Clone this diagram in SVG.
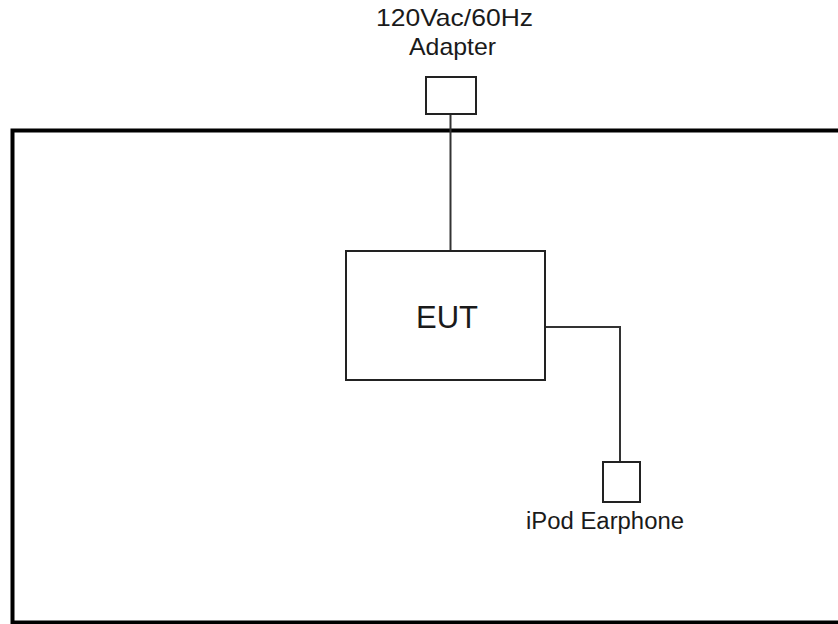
<svg xmlns="http://www.w3.org/2000/svg" width="838" height="624" viewBox="0 0 838 624">
<style>
.box{fill:#fff;stroke:#222;stroke-width:2}
.wire{fill:none;stroke:#333;stroke-width:2}
.lbl{font-family:"Liberation Sans",Arial,sans-serif;fill:#1a1a1a;text-anchor:middle}
</style>
<rect width="838" height="624" fill="#fff"/>
<g id="enclosure"><rect x="12.5" y="130.5" width="830" height="492" fill="none" stroke="#000" stroke-width="4"/></g>
<g id="connectors">
<path class="wire" d="M450.5 114 V251"/>
<path class="wire" d="M545 327 H620 V462"/>
</g>
<g id="adapter">
<rect class="box" x="426" y="77" width="50" height="37"/>
<text class="lbl" x="454.5" y="26" font-size="24" textLength="157" lengthAdjust="spacingAndGlyphs">120Vac/60Hz</text>
<text class="lbl" x="452.5" y="55" font-size="24" textLength="87" lengthAdjust="spacingAndGlyphs">Adapter</text>
</g>
<g id="eut">
<rect class="box" x="346" y="251" width="199" height="129"/>
<text class="lbl" x="447" y="328" font-size="32" textLength="62" lengthAdjust="spacingAndGlyphs">EUT</text>
</g>
<g id="earphone">
<rect class="box" x="603" y="462" width="37" height="40"/>
<text class="lbl" x="605" y="529" font-size="23" textLength="158" lengthAdjust="spacingAndGlyphs">iPod Earphone</text>
</g>
</svg>
